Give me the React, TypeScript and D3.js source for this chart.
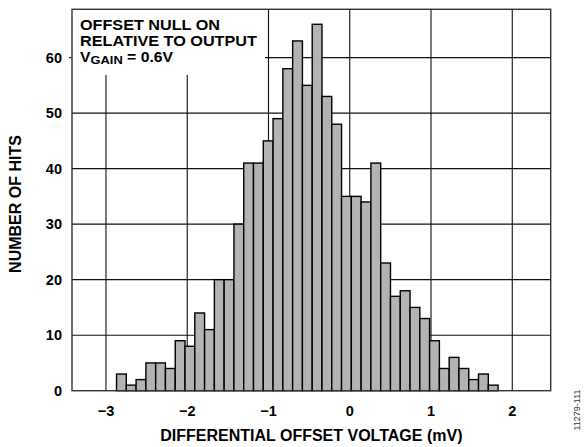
import React from "react";
import * as d3 from "d3";

const binStart = -2.87;
const binWidth = 0.1204;
const counts = [3, 1, 2, 5, 5, 4, 9, 8, 14, 11, 20, 20, 30, 41, 41, 45, 49, 58, 63, 55, 66, 53, 48, 35, 35, 34, 41, 23, 17, 18, 15, 13, 9, 4, 6, 4, 2, 3, 1];
const xTicks = [-3, -2, -1, 0, 1, 2];
const yTicks = [0, 10, 20, 30, 40, 50, 60];
const noteLines = ["OFFSET NULL ON", "RELATIVE TO OUTPUT"];

const W = 585, H = 447;
const L = 72, R = 550.7, T = 9.3, B = 390.7;

export default function App() {
  const x = d3.scaleLinear().domain([-3.418, 2.473]).range([L, R]);
  const y = d3.scaleLinear().domain([0, 68.7]).range([B, T]);
  const bins = counts.map((c, i) => ({ x0: binStart + i * binWidth, x1: binStart + (i + 1) * binWidth, c }));
  const font = "'Liberation Sans', Arial, sans-serif";
  const boxR = 265, boxB = 75;
  return (
    <svg width={W} height={H} style={{ position: "absolute", left: 0, top: 0 }} fontFamily={font}>
      <rect x={0} y={0} width={W} height={H} fill="#fff" />
      {/* grid */}
      {yTicks.filter((t) => t > 0).map((t) => (
        <line key={"gy" + t} x1={t === 60 ? boxR : L} x2={R} y1={y(t)} y2={y(t)} stroke="#111" strokeWidth={1.1} />
      ))}
      {xTicks.map((t) => (
        <line key={"gx" + t} x1={x(t)} x2={x(t)} y1={x(t) < boxR ? boxB : T} y2={B} stroke="#111" strokeWidth={1.1} />
      ))}
      <line x1={L - 3} x2={L} y1={y(60)} y2={y(60)} stroke="#111" strokeWidth={1.1} />
      {/* bars */}
      {bins.map((b, i) => (
        <rect key={i} x={x(b.x0)} y={y(b.c)} width={x(b.x1) - x(b.x0)} height={y(0) - y(b.c)}
          fill="#b3b3b3" stroke="#000" strokeWidth={1.4} />
      ))}
      {/* frame */}
      <rect x={L} y={T} width={R - L} height={B - T} fill="none" stroke="#333" strokeWidth={1.4} />
      {/* note */}
      <g fontWeight="bold" fontSize={14} fill="#000">
        <text x={80} y={30} textLength={140} lengthAdjust="spacingAndGlyphs">{noteLines[0]}</text>
        <text x={80} y={45.8} textLength={177} lengthAdjust="spacingAndGlyphs">{noteLines[1]}</text>
        <text x={80} y={61.7} textLength={93} lengthAdjust="spacingAndGlyphs">V<tspan fontSize={11.5} dy={2.5}>GAIN</tspan><tspan dy={-2.5}> = 0.6V</tspan></text>
      </g>
      {/* y tick labels */}
      <g fontWeight="bold" fontSize={14.5} textAnchor="end">
        {yTicks.map((t) => (
          <text key={"yl" + t} x={62} y={y(t) + 5.2}>{t}</text>
        ))}
      </g>
      {/* x tick labels */}
      <g fontWeight="bold" fontSize={14.5} textAnchor="middle">
        {xTicks.map((t) => (
          <text key={"xl" + t} x={x(t)} y={416}>{t < 0 ? "\u2212" + Math.abs(t) : String(t)}</text>
        ))}
      </g>
      <text x={(L + R) / 2} y={440.7} textAnchor="middle" fontWeight="bold" fontSize={16}>DIFFERENTIAL OFFSET VOLTAGE (mV)</text>
      <text transform={`translate(21,${204}) rotate(-90)`} textAnchor="middle" fontWeight="bold" fontSize={16}>NUMBER OF HITS</text>
      <text transform={`translate(580,410) rotate(-90)`} textAnchor="middle" fontSize={9} fill="#333">11279-111</text>
    </svg>
  );
}
